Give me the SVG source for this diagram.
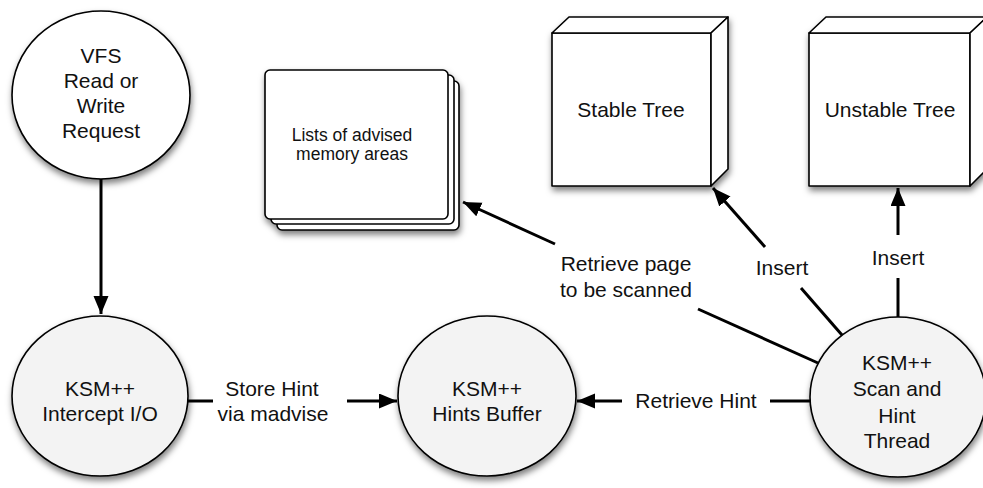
<svg xmlns="http://www.w3.org/2000/svg" width="983" height="488" viewBox="0 0 983 488">
  <style>
    .shape { stroke: #000; stroke-width: 1.6; filter: url(#shadow); }
    .plain { fill: #fff; }
    .proc { fill: #f3f3f3; }
    .face { fill: #fff; stroke: #000; stroke-width: 1.6; stroke-linejoin: round; }
    .lbl { font-family: "Liberation Sans", Arial, sans-serif; font-size: 21px; fill: #111; text-anchor: middle; }
    .small { font-size: 17.5px; }
    .edge { stroke: #000; stroke-width: 3; fill: none; }
  </style>
  <defs>
    <filter id="shadow" x="-20%" y="-20%" width="150%" height="150%">
      <feDropShadow dx="1" dy="4" stdDeviation="3" flood-color="#000" flood-opacity="0.5"/>
    </filter>
    <marker id="arrow" markerUnits="userSpaceOnUse" markerWidth="20" markerHeight="16" refX="18" refY="7.5" orient="auto">
      <path d="M0,0 L18,7.5 L0,15 z" fill="#000"/>
    </marker>
  </defs>

  <!-- nodes -->
  <g id="vfs-request">
    <ellipse class="shape plain" cx="101" cy="95" rx="89" ry="84"/>
    <text class="lbl" x="101" y="63">VFS</text>
    <text class="lbl" x="101" y="88">Read or</text>
    <text class="lbl" x="101" y="113">Write</text>
    <text class="lbl" x="101" y="138">Request</text>
  </g>

  <g id="advised-lists">
    <g filter="url(#shadow)">
      <rect class="face" x="277" y="81" width="182" height="149" rx="5"/>
      <rect class="face" x="271" y="75" width="183" height="149" rx="5"/>
      <rect class="face" x="265" y="70" width="183" height="149" rx="5"/>
    </g>
    <text class="lbl small" x="352" y="141">Lists of advised</text>
    <text class="lbl small" x="352" y="160">memory areas</text>
  </g>

  <g id="stable-tree">
    <g filter="url(#shadow)">
      <rect class="face" x="552" y="33" width="159" height="153"/>
      <polygon class="face" points="552,33 569,17 728,17 711,33"/>
      <polygon class="face" points="711,33 728,17 728,169 711,186"/>
    </g>
    <text class="lbl" x="631" y="117">Stable Tree</text>
  </g>

  <g id="unstable-tree">
    <g filter="url(#shadow)">
      <rect class="face" x="809" y="33" width="161" height="153"/>
      <polygon class="face" points="809,33 826,17 987,17 970,33"/>
      <polygon class="face" points="970,33 987,17 987,169 970,186"/>
    </g>
    <text class="lbl" x="890" y="117">Unstable Tree</text>
  </g>

  <g id="intercept-io">
    <ellipse class="shape proc" cx="100" cy="396" rx="88" ry="80"/>
    <text class="lbl" x="100" y="396">KSM++</text>
    <text class="lbl" x="100" y="421">Intercept I/O</text>
  </g>

  <g id="hints-buffer">
    <ellipse class="shape proc" cx="487" cy="396" rx="89" ry="80"/>
    <text class="lbl" x="487" y="396">KSM++</text>
    <text class="lbl" x="487" y="421">Hints Buffer</text>
  </g>

  <g id="scan-thread">
    <ellipse class="shape proc" cx="898" cy="397" rx="88" ry="80"/>
    <text class="lbl" x="897" y="370">KSM++</text>
    <text class="lbl" x="897" y="396">Scan and</text>
    <text class="lbl" x="897" y="423">Hint</text>
    <text class="lbl" x="897" y="448">Thread</text>
  </g>

  <!-- connectors -->
  <g id="connectors">
    <line class="edge" x1="101" y1="179" x2="101" y2="314" marker-end="url(#arrow)"/>

    <line class="edge" x1="188" y1="401" x2="213" y2="401"/>
    <line class="edge" x1="347" y1="401" x2="397" y2="401" marker-end="url(#arrow)"/>
    <text class="lbl" x="272" y="396">Store Hint</text>
    <text class="lbl" x="273" y="421">via madvise</text>

    <line class="edge" x1="810" y1="401" x2="770" y2="401"/>
    <line class="edge" x1="622" y1="401" x2="577" y2="401" marker-end="url(#arrow)"/>
    <text class="lbl" x="696" y="408">Retrieve Hint</text>

    <line class="edge" x1="818" y1="363" x2="698" y2="309"/>
    <line class="edge" x1="555" y1="244" x2="463" y2="202" marker-end="url(#arrow)"/>
    <text class="lbl" x="626" y="271">Retrieve page</text>
    <text class="lbl" x="626" y="297">to be scanned</text>

    <line class="edge" x1="842" y1="335" x2="801" y2="288"/>
    <line class="edge" x1="765" y1="247" x2="713" y2="188" marker-end="url(#arrow)"/>
    <text class="lbl" x="782" y="275">Insert</text>

    <line class="edge" x1="898" y1="317" x2="898" y2="278"/>
    <line class="edge" x1="898" y1="235" x2="898" y2="188" marker-end="url(#arrow)"/>
    <text class="lbl" x="898" y="265">Insert</text>
  </g>
</svg>
